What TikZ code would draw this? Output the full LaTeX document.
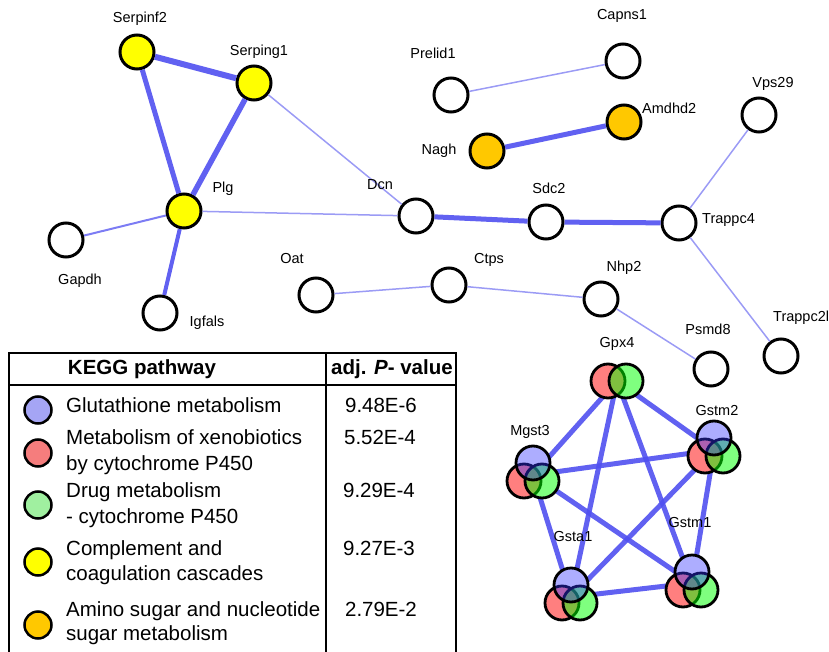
\documentclass[tikz,border=0pt]{standalone}
\usepackage{fontspec}
\setmainfont{Liberation Sans}
\definecolor{eblue}{RGB}{80,80,240}
\definecolor{lblue}{RGB}{155,155,245}
\definecolor{nyellow}{RGB}{255,255,0}
\definecolor{norange}{RGB}{255,200,0}
\definecolor{legblue}{RGB}{165,165,245}
\definecolor{legred}{RGB}{245,125,125}
\definecolor{leggreen}{RGB}{160,240,160}
\begin{document}
\begin{tikzpicture}[x=1pt,y=-1pt,
  gene/.style={circle,draw=black,line width=3pt,minimum size=34pt,inner sep=0pt,fill=white},
  lbl/.style={font=\fontsize{14.5}{17}\selectfont,inner sep=0pt},
  strong/.style={line width=5pt,draw=eblue,opacity=0.9},
  medium/.style={line width=2pt,draw=eblue!75},
  weak/.style={line width=1.5pt,draw=lblue},
  under/.style={circle,fill=white,minimum size=34pt,inner sep=0pt},
  venn/.style={circle,draw=black,line width=2.8pt,minimum size=34pt,inner sep=0pt,fill opacity=0.5},
  tab/.style={font=\fontsize{20.5}{27}\selectfont,inner sep=0pt},
  legc/.style={circle,draw=black,line width=2.5pt,minimum size=27pt,inner sep=0pt}]
\useasboundingbox (0,0) rectangle (829,652);

% ---------- nodes of network ----------
\node[gene,fill=nyellow] (serpinf2) at (137,52) {};
\node[gene,fill=nyellow] (serping1) at (254,83) {};
\node[gene,fill=nyellow] (plg) at (184,211) {};
\node[gene] (gapdh) at (66,240) {};
\node[gene] (igfals) at (160,313) {};
\node[gene] (oat) at (316,295) {};
\node[gene] (dcn) at (416,216) {};
\node[gene] (prelid1) at (451,95) {};
\node[gene] (capns1) at (623,61) {};
\node[gene,fill=norange] (nagh) at (487,151) {};
\node[gene,fill=norange] (amdhd2) at (624,122) {};
\node[gene] (vps29) at (759,115) {};
\node[gene] (sdc2) at (546,222) {};
\node[gene] (trappc4) at (679,223) {};
\node[gene] (ctps) at (449,285) {};
\node[gene] (nhp2) at (601,299) {};
\node[gene] (psmd8) at (711,369) {};
\node[gene] (trappc2l) at (781,356) {};

% ---------- edges ----------
\draw[strong,line width=6pt] (serpinf2) -- (serping1);
\draw[strong] (serpinf2) -- (plg);
\draw[strong,line width=5.5pt] (serping1) -- (plg);
\draw[strong,line width=4pt] (plg) -- (igfals);
\draw[medium] (plg) -- (gapdh);
\draw[weak] (plg) -- (dcn);
\draw[weak] (serping1) -- (dcn);
\draw[strong] (dcn) -- (sdc2);
\draw[strong] (sdc2) -- (trappc4);
\draw[strong] (nagh) -- (amdhd2);
\draw[weak] (prelid1) -- (capns1);
\draw[weak] (trappc4) -- (vps29);
\draw[weak] (trappc4) -- (trappc2l);
\draw[weak] (oat) -- (ctps);
\draw[weak] (ctps) -- (nhp2);
\draw[weak] (nhp2) -- (psmd8);

% ---------- labels ----------
\node[lbl] (l-serpinf2) at (140,19) {Serpinf2};
\node[lbl] (l-serping1) at (259,52) {Serping1};
\node[lbl] (l-plg) at (223,189) {Plg};
\node[lbl] (l-gapdh) at (80,281) {Gapdh};
\node[lbl] (l-igfals) at (207,323) {Igfals};
\node[lbl] (l-oat) at (292,259) {Oat};
\node[lbl] (l-dcn) at (380,185) {Dcn};
\node[lbl] (l-prelid1) at (433,53) {Prelid1};
\node[lbl] (l-capns1) at (622,16) {Capns1};
\node[lbl] (l-nagh) at (439,151) {Nagh};
\node[lbl,anchor=west] (l-amdhd2) at (642,108) {Amdhd2};
\node[lbl] (l-vps29) at (773,84) {Vps29};
\node[lbl] (l-sdc2) at (549,188) {Sdc2};
\node[lbl,anchor=west] (l-trappc4) at (702,220) {Trappc4};
\node[lbl] (l-ctps) at (489,260) {Ctps};
\node[lbl] (l-nhp2) at (624,268) {Nhp2};
\node[lbl] (l-psmd8) at (708,329) {Psmd8};
\node[lbl,anchor=west] (l-trappc2l) at (773,318) {Trappc2l};

% ---------- cluster ----------
\coordinate (gpx4) at (617,381);
\coordinate (gstm2) at (714,450);
\coordinate (mgst3) at (533,475);
\coordinate (gsta1) at (571,597);
\coordinate (gstm1) at (692,583);
\foreach \a/\b in {gpx4/mgst3,gpx4/gstm2,gpx4/gsta1,gpx4/gstm1,mgst3/gstm2,mgst3/gsta1,mgst3/gstm1,gstm2/gsta1,gstm2/gstm1,gsta1/gstm1}
  \draw[strong] (\a) -- (\b);

\node[under] (gpx4-ur) at (608,381) {};
\node[under] (gpx4-ug) at (626,381) {};
\node[venn,fill=red] (gpx4-r) at (608,381) {};
\node[venn,fill=green] (gpx4-g) at (626,381) {};

\foreach \n/\x/\y in {gstm2/714/438,mgst3/533/463,gsta1/571/585,gstm1/692/572}{
  \node[under] (\n-ub) at (\x,\y) {};
  \node[under] (\n-ur) at (\x-9,\y+18) {};
  \node[under] (\n-ug) at (\x+9,\y+18) {};
}
\foreach \n/\x/\y in {gstm2/714/438,mgst3/533/463,gsta1/571/585,gstm1/692/572}{
  \node[venn,fill=red] (\n-r) at (\x-9,\y+18) {};
  \node[venn,fill=green] (\n-g) at (\x+9,\y+18) {};
  \node[venn,fill=blue!80,fill opacity=0.4] (\n-b) at (\x,\y) {};
}

\node[lbl] (l-gpx4) at (617,344) {Gpx4};
\node[lbl] (l-gstm2) at (717,411) {Gstm2};
\node[lbl] (l-mgst3) at (530,432) {Mgst3};
\node[lbl] (l-gsta1) at (573,537) {Gsta1};
\node[lbl] (l-gstm1) at (690,523) {Gstm1};

% ---------- table ----------
\draw[line width=2pt] (9,660) -- (9,353) -- (456,353) -- (456,660);
\draw[line width=2pt] (9,385) -- (456,385);
\draw[line width=2pt] (326,353) -- (326,660);

\node[tab,anchor=mid] (h1) at (142,372) {\bfseries KEGG pathway};
\node[tab,anchor=mid] (h2) at (392,372) {\bfseries adj. \textit{P}- value};

\node[legc,fill=legblue] (c1) at (38,410) {};
\node[legc,fill=legred] (c2) at (38,453) {};
\node[legc,fill=leggreen] (c3) at (38,505) {};
\node[legc,fill=nyellow] (c4) at (38,562) {};
\node[legc,fill=norange] (c5) at (38,625) {};

\node[tab,anchor=mid west] (t1) at (66,410) {Glutathione metabolism};
\node[tab,anchor=mid west] (t2a) at (66,442) {Metabolism of xenobiotics};
\node[tab,anchor=mid west] (t2b) at (66,468) {by cytochrome P450};
\node[tab,anchor=mid west] (t3a) at (66,494.7) {Drug metabolism};
\node[tab,anchor=mid west] (t3b) at (66,520.7) {- cytochrome P450};
\node[tab,anchor=mid west] (t4a) at (66,552.7) {Complement and};
\node[tab,anchor=mid west] (t4b) at (66,578) {coagulation cascades};
\node[tab,anchor=mid west] (t5a) at (66,613.4) {Amino sugar and nucleotide};
\node[tab,anchor=mid west] (t5b) at (66,638) {sugar metabolism};

\node[tab,anchor=mid] (v1) at (381,410) {9.48E-6};
\node[tab,anchor=mid] (v2) at (380,442) {5.52E-4};
\node[tab,anchor=mid] (v3) at (379,494.7) {9.29E-4};
\node[tab,anchor=mid] (v4) at (379,552.7) {9.27E-3};
\node[tab,anchor=mid] (v5) at (381,613.4) {2.79E-2};
\end{tikzpicture}
\end{document}
